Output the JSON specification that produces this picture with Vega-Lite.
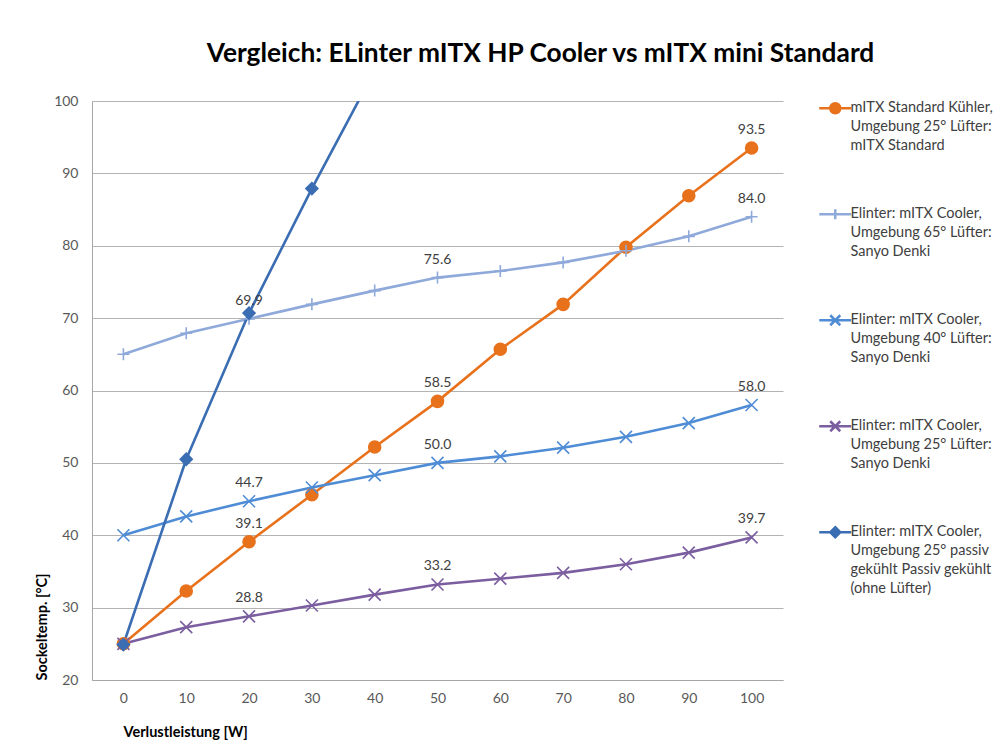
{
  "$schema": "https://vega.github.io/schema/vega-lite/v6.json",
  "autosize": "none",
  "width": 691,
  "height": 579,
  "padding": {"left": 92, "top": 101, "right": 217, "bottom": 72},
  "background": "white",
  "title": {
    "text": "Vergleich: ELinter mITX  HP Cooler vs mITX mini Standard",
    "anchor": "middle",
    "dx": 103,
    "offset": 27,
    "font": "Lato",
    "fontSize": 26.3,
    "fontWeight": "bold",
    "color": "#000000"
  },
  "config": {
    "view": {"stroke": null},
    "font": "Lato",
    "style": {"guide-label": {"lineHeight": 19}},
    "axis": {
      "labelFont": "Lato",
      "labelFontSize": 14,
      "labelColor": "#595959",
      "titleFont": "Lato",
      "titleFontSize": 14.5,
      "titleFontWeight": "bold",
      "titleColor": "#000000",
      "ticks": false,
      "domainColor": "#A6A6A6",
      "domainWidth": 1,
      "gridColor": "#B3B3B3",
      "gridWidth": 1
    },
    "legend": {
      "title": null,
      "orient": "right",
      "offset": 45,
      "padding": 0,
      "labelFont": "Lato",
      "labelFontSize": 14.5,
      "labelColor": "#404040",
      "labelLimit": 0,
      "labelBaseline": "middle",
      "labelOffset": 8,
      "rowPadding": 51,
      "symbolSize": 100,
      "symbolStrokeWidth": 2.5
    }
  },
  "data": {
    "values": [
      {"series": "mITX Standard Kühler, Umgebung 25° Lüfter: mITX Standard", "x": 0, "y": 25.0, "label": null},
      {"series": "mITX Standard Kühler, Umgebung 25° Lüfter: mITX Standard", "x": 10, "y": 32.3, "label": null},
      {"series": "mITX Standard Kühler, Umgebung 25° Lüfter: mITX Standard", "x": 20, "y": 39.1, "label": "39.1"},
      {"series": "mITX Standard Kühler, Umgebung 25° Lüfter: mITX Standard", "x": 30, "y": 45.6, "label": null},
      {"series": "mITX Standard Kühler, Umgebung 25° Lüfter: mITX Standard", "x": 40, "y": 52.2, "label": null},
      {"series": "mITX Standard Kühler, Umgebung 25° Lüfter: mITX Standard", "x": 50, "y": 58.5, "label": "58.5"},
      {"series": "mITX Standard Kühler, Umgebung 25° Lüfter: mITX Standard", "x": 60, "y": 65.7, "label": null},
      {"series": "mITX Standard Kühler, Umgebung 25° Lüfter: mITX Standard", "x": 70, "y": 71.9, "label": null},
      {"series": "mITX Standard Kühler, Umgebung 25° Lüfter: mITX Standard", "x": 80, "y": 79.8, "label": null},
      {"series": "mITX Standard Kühler, Umgebung 25° Lüfter: mITX Standard", "x": 90, "y": 86.9, "label": null},
      {"series": "mITX Standard Kühler, Umgebung 25° Lüfter: mITX Standard", "x": 100, "y": 93.5, "label": "93.5"},

      {"series": "Elinter: mITX Cooler, Umgebung 65° Lüfter: Sanyo Denki", "x": 0, "y": 65.0, "label": null},
      {"series": "Elinter: mITX Cooler, Umgebung 65° Lüfter: Sanyo Denki", "x": 10, "y": 67.9, "label": null},
      {"series": "Elinter: mITX Cooler, Umgebung 65° Lüfter: Sanyo Denki", "x": 20, "y": 69.9, "label": "69.9"},
      {"series": "Elinter: mITX Cooler, Umgebung 65° Lüfter: Sanyo Denki", "x": 30, "y": 71.9, "label": null},
      {"series": "Elinter: mITX Cooler, Umgebung 65° Lüfter: Sanyo Denki", "x": 40, "y": 73.8, "label": null},
      {"series": "Elinter: mITX Cooler, Umgebung 65° Lüfter: Sanyo Denki", "x": 50, "y": 75.6, "label": "75.6"},
      {"series": "Elinter: mITX Cooler, Umgebung 65° Lüfter: Sanyo Denki", "x": 60, "y": 76.5, "label": null},
      {"series": "Elinter: mITX Cooler, Umgebung 65° Lüfter: Sanyo Denki", "x": 70, "y": 77.7, "label": null},
      {"series": "Elinter: mITX Cooler, Umgebung 65° Lüfter: Sanyo Denki", "x": 80, "y": 79.3, "label": null},
      {"series": "Elinter: mITX Cooler, Umgebung 65° Lüfter: Sanyo Denki", "x": 90, "y": 81.3, "label": null},
      {"series": "Elinter: mITX Cooler, Umgebung 65° Lüfter: Sanyo Denki", "x": 100, "y": 84.0, "label": "84.0"},

      {"series": "Elinter: mITX Cooler, Umgebung 40° Lüfter: Sanyo Denki", "x": 0, "y": 40.0, "label": null},
      {"series": "Elinter: mITX Cooler, Umgebung 40° Lüfter: Sanyo Denki", "x": 10, "y": 42.6, "label": null},
      {"series": "Elinter: mITX Cooler, Umgebung 40° Lüfter: Sanyo Denki", "x": 20, "y": 44.7, "label": "44.7"},
      {"series": "Elinter: mITX Cooler, Umgebung 40° Lüfter: Sanyo Denki", "x": 30, "y": 46.6, "label": null},
      {"series": "Elinter: mITX Cooler, Umgebung 40° Lüfter: Sanyo Denki", "x": 40, "y": 48.3, "label": null},
      {"series": "Elinter: mITX Cooler, Umgebung 40° Lüfter: Sanyo Denki", "x": 50, "y": 50.0, "label": "50.0"},
      {"series": "Elinter: mITX Cooler, Umgebung 40° Lüfter: Sanyo Denki", "x": 60, "y": 50.9, "label": null},
      {"series": "Elinter: mITX Cooler, Umgebung 40° Lüfter: Sanyo Denki", "x": 70, "y": 52.1, "label": null},
      {"series": "Elinter: mITX Cooler, Umgebung 40° Lüfter: Sanyo Denki", "x": 80, "y": 53.6, "label": null},
      {"series": "Elinter: mITX Cooler, Umgebung 40° Lüfter: Sanyo Denki", "x": 90, "y": 55.5, "label": null},
      {"series": "Elinter: mITX Cooler, Umgebung 40° Lüfter: Sanyo Denki", "x": 100, "y": 58.0, "label": "58.0"},

      {"series": "Elinter: mITX Cooler, Umgebung 25° Lüfter: Sanyo Denki", "x": 0, "y": 25.0, "label": null},
      {"series": "Elinter: mITX Cooler, Umgebung 25° Lüfter: Sanyo Denki", "x": 10, "y": 27.3, "label": null},
      {"series": "Elinter: mITX Cooler, Umgebung 25° Lüfter: Sanyo Denki", "x": 20, "y": 28.8, "label": "28.8"},
      {"series": "Elinter: mITX Cooler, Umgebung 25° Lüfter: Sanyo Denki", "x": 30, "y": 30.3, "label": null},
      {"series": "Elinter: mITX Cooler, Umgebung 25° Lüfter: Sanyo Denki", "x": 40, "y": 31.8, "label": null},
      {"series": "Elinter: mITX Cooler, Umgebung 25° Lüfter: Sanyo Denki", "x": 50, "y": 33.2, "label": "33.2"},
      {"series": "Elinter: mITX Cooler, Umgebung 25° Lüfter: Sanyo Denki", "x": 60, "y": 34.0, "label": null},
      {"series": "Elinter: mITX Cooler, Umgebung 25° Lüfter: Sanyo Denki", "x": 70, "y": 34.8, "label": null},
      {"series": "Elinter: mITX Cooler, Umgebung 25° Lüfter: Sanyo Denki", "x": 80, "y": 36.0, "label": null},
      {"series": "Elinter: mITX Cooler, Umgebung 25° Lüfter: Sanyo Denki", "x": 90, "y": 37.6, "label": null},
      {"series": "Elinter: mITX Cooler, Umgebung 25° Lüfter: Sanyo Denki", "x": 100, "y": 39.7, "label": "39.7"},

      {"series": "Elinter: mITX Cooler, Umgebung 25° passiv gekühlt Passiv gekühlt (ohne Lüfter)", "x": 0, "y": 24.9, "label": null},
      {"series": "Elinter: mITX Cooler, Umgebung 25° passiv gekühlt Passiv gekühlt (ohne Lüfter)", "x": 10, "y": 50.5, "label": null},
      {"series": "Elinter: mITX Cooler, Umgebung 25° passiv gekühlt Passiv gekühlt (ohne Lüfter)", "x": 20, "y": 70.7, "label": null},
      {"series": "Elinter: mITX Cooler, Umgebung 25° passiv gekühlt Passiv gekühlt (ohne Lüfter)", "x": 30, "y": 87.9, "label": null},
      {"series": "Elinter: mITX Cooler, Umgebung 25° passiv gekühlt Passiv gekühlt (ohne Lüfter)", "x": 40, "y": 104.2, "label": null}
    ]
  },
  "encoding": {
    "x": {
      "field": "x",
      "type": "quantitative",
      "scale": {"domain": [-5, 105], "nice": false, "zero": false},
      "axis": {
        "title": "Verlustleistung [W]",
        "values": [0, 10, 20, 30, 40, 50, 60, 70, 80, 90, 100],
        "grid": false,
        "labelPadding": 11,
        "labelFlush": false,
        "titleX": 31,
        "titleY": 52,
        "titleAlign": "left",
        "titleBaseline": "middle"
      }
    },
    "y": {
      "field": "y",
      "type": "quantitative",
      "scale": {"domain": [20, 100], "nice": false, "zero": false},
      "axis": {
        "title": "Sockeltemp. [°C]",
        "values": [20, 30, 40, 50, 60, 70, 80, 90, 100],
        "grid": true,
        "labelPadding": 14,
        "titleAngle": -90,
        "titleX": -50,
        "titleY": 579,
        "titleAlign": "left",
        "titleBaseline": "middle"
      }
    }
  },
  "layer": [
    {
      "mark": {"type": "line", "strokeWidth": 2.6, "clip": true},
      "encoding": {
        "color": {
          "field": "series",
          "type": "nominal",
          "scale": {
            "domain": [
              "mITX Standard Kühler, Umgebung 25° Lüfter: mITX Standard",
              "Elinter: mITX Cooler, Umgebung 65° Lüfter: Sanyo Denki",
              "Elinter: mITX Cooler, Umgebung 40° Lüfter: Sanyo Denki",
              "Elinter: mITX Cooler, Umgebung 25° Lüfter: Sanyo Denki",
              "Elinter: mITX Cooler, Umgebung 25° passiv gekühlt Passiv gekühlt (ohne Lüfter)"
            ],
            "range": ["#E8711C", "#8FA9DA", "#4F8CD6", "#7B5EA0", "#3B6DB3"]
          },
          "legend": null
        }
      }
    },
    {
      "mark": {"type": "point", "filled": true, "size": 144, "strokeWidth": 1.6, "opacity": 1, "clip": true},
      "encoding": {
        "shape": {
          "field": "series",
          "type": "nominal",
          "scale": {
            "domain": [
              "mITX Standard Kühler, Umgebung 25° Lüfter: mITX Standard",
              "Elinter: mITX Cooler, Umgebung 65° Lüfter: Sanyo Denki",
              "Elinter: mITX Cooler, Umgebung 40° Lüfter: Sanyo Denki",
              "Elinter: mITX Cooler, Umgebung 25° Lüfter: Sanyo Denki",
              "Elinter: mITX Cooler, Umgebung 25° passiv gekühlt Passiv gekühlt (ohne Lüfter)"
            ],
            "range": ["circle", "M-1,0H1M0,-1V1", "M-1,-1L1,1M-1,1L1,-1", "M-1,-1L1,1M-1,1L1,-1", "diamond"]
          },
          "legend": null
        },
        "fill": {
          "field": "series",
          "type": "nominal",
          "scale": {
            "domain": [
              "mITX Standard Kühler, Umgebung 25° Lüfter: mITX Standard",
              "Elinter: mITX Cooler, Umgebung 65° Lüfter: Sanyo Denki",
              "Elinter: mITX Cooler, Umgebung 40° Lüfter: Sanyo Denki",
              "Elinter: mITX Cooler, Umgebung 25° Lüfter: Sanyo Denki",
              "Elinter: mITX Cooler, Umgebung 25° passiv gekühlt Passiv gekühlt (ohne Lüfter)"
            ],
            "range": ["#E8711C", "#8FA9DA", "#4F8CD6", "#7B5EA0", "#3B6DB3"]
          },
          "legend": null
        },
        "stroke": {
          "field": "series",
          "type": "nominal",
          "scale": {
            "domain": [
              "mITX Standard Kühler, Umgebung 25° Lüfter: mITX Standard",
              "Elinter: mITX Cooler, Umgebung 65° Lüfter: Sanyo Denki",
              "Elinter: mITX Cooler, Umgebung 40° Lüfter: Sanyo Denki",
              "Elinter: mITX Cooler, Umgebung 25° Lüfter: Sanyo Denki",
              "Elinter: mITX Cooler, Umgebung 25° passiv gekühlt Passiv gekühlt (ohne Lüfter)"
            ],
            "range": ["#E8711C", "#8FA9DA", "#4F8CD6", "#7B5EA0", "#3B6DB3"]
          },
          "legend": null
        }
      }
    },
    {
      "transform": [{"filter": "isValid(datum.label)"}],
      "mark": {"type": "text", "align": "center", "baseline": "bottom", "dy": -11, "fontSize": 14, "font": "Lato", "color": "#404040"},
      "encoding": {
        "text": {"field": "label", "type": "nominal"}
      }
    },
    {
      "transform": [{"filter": "datum.x < -100"}],
      "mark": {"type": "point", "filled": true, "strokeWidth": 2.5, "opacity": 1},
      "encoding": {
        "shape": {
          "field": "series",
          "type": "nominal",
          "scale": {
            "domain": [
              "mITX Standard Kühler, Umgebung 25° Lüfter: mITX Standard",
              "Elinter: mITX Cooler, Umgebung 65° Lüfter: Sanyo Denki",
              "Elinter: mITX Cooler, Umgebung 40° Lüfter: Sanyo Denki",
              "Elinter: mITX Cooler, Umgebung 25° Lüfter: Sanyo Denki",
              "Elinter: mITX Cooler, Umgebung 25° passiv gekühlt Passiv gekühlt (ohne Lüfter)"
            ],
            "range": [
              "M-3.2,0H3.2M-1,0A1,1 0 1,0 1,0A1,1 0 1,0 -1,0Z",
              "M-3.2,0H3.2M0,-1V1",
              "M-3.2,0H3.2M-1,-1L1,1M-1,1L1,-1",
              "M-3.2,0H3.2M-1,-1L1,1M-1,1L1,-1",
              "M-3.2,0H3.2M0,-1L1,0L0,1L-1,0Z"
            ]
          },
          "legend": {
            "labelExpr": "indexof(datum.label, 'Standard') >= 0 ? ['mITX Standard Kühler,', 'Umgebung 25° Lüfter:', 'mITX Standard'] : indexof(datum.label, 'passiv') >= 0 ? ['Elinter:  mITX Cooler,', 'Umgebung 25° passiv', 'gekühlt Passiv gekühlt', '(ohne Lüfter)'] : ['Elinter:  mITX Cooler,', 'Umgebung ' + (indexof(datum.label, '65°') >= 0 ? '65' : indexof(datum.label, '40°') >= 0 ? '40' : '25') + '° Lüfter:', 'Sanyo Denki']"
          }
        },
        "fill": {
          "field": "series",
          "type": "nominal",
          "scale": {
            "domain": [
              "mITX Standard Kühler, Umgebung 25° Lüfter: mITX Standard",
              "Elinter: mITX Cooler, Umgebung 65° Lüfter: Sanyo Denki",
              "Elinter: mITX Cooler, Umgebung 40° Lüfter: Sanyo Denki",
              "Elinter: mITX Cooler, Umgebung 25° Lüfter: Sanyo Denki",
              "Elinter: mITX Cooler, Umgebung 25° passiv gekühlt Passiv gekühlt (ohne Lüfter)"
            ],
            "range": ["#E8711C", "#8FA9DA", "#4F8CD6", "#7B5EA0", "#3B6DB3"]
          },
          "legend": {
            "labelExpr": "indexof(datum.label, 'Standard') >= 0 ? ['mITX Standard Kühler,', 'Umgebung 25° Lüfter:', 'mITX Standard'] : indexof(datum.label, 'passiv') >= 0 ? ['Elinter:  mITX Cooler,', 'Umgebung 25° passiv', 'gekühlt Passiv gekühlt', '(ohne Lüfter)'] : ['Elinter:  mITX Cooler,', 'Umgebung ' + (indexof(datum.label, '65°') >= 0 ? '65' : indexof(datum.label, '40°') >= 0 ? '40' : '25') + '° Lüfter:', 'Sanyo Denki']"
          }
        },
        "stroke": {
          "field": "series",
          "type": "nominal",
          "scale": {
            "domain": [
              "mITX Standard Kühler, Umgebung 25° Lüfter: mITX Standard",
              "Elinter: mITX Cooler, Umgebung 65° Lüfter: Sanyo Denki",
              "Elinter: mITX Cooler, Umgebung 40° Lüfter: Sanyo Denki",
              "Elinter: mITX Cooler, Umgebung 25° Lüfter: Sanyo Denki",
              "Elinter: mITX Cooler, Umgebung 25° passiv gekühlt Passiv gekühlt (ohne Lüfter)"
            ],
            "range": ["#E8711C", "#8FA9DA", "#4F8CD6", "#7B5EA0", "#3B6DB3"]
          },
          "legend": {
            "labelExpr": "indexof(datum.label, 'Standard') >= 0 ? ['mITX Standard Kühler,', 'Umgebung 25° Lüfter:', 'mITX Standard'] : indexof(datum.label, 'passiv') >= 0 ? ['Elinter:  mITX Cooler,', 'Umgebung 25° passiv', 'gekühlt Passiv gekühlt', '(ohne Lüfter)'] : ['Elinter:  mITX Cooler,', 'Umgebung ' + (indexof(datum.label, '65°') >= 0 ? '65' : indexof(datum.label, '40°') >= 0 ? '40' : '25') + '° Lüfter:', 'Sanyo Denki']"
          }
        }
      }
    }
  ],
  "resolve": {"scale": {"shape": "independent", "fill": "independent", "stroke": "independent"}}
}
